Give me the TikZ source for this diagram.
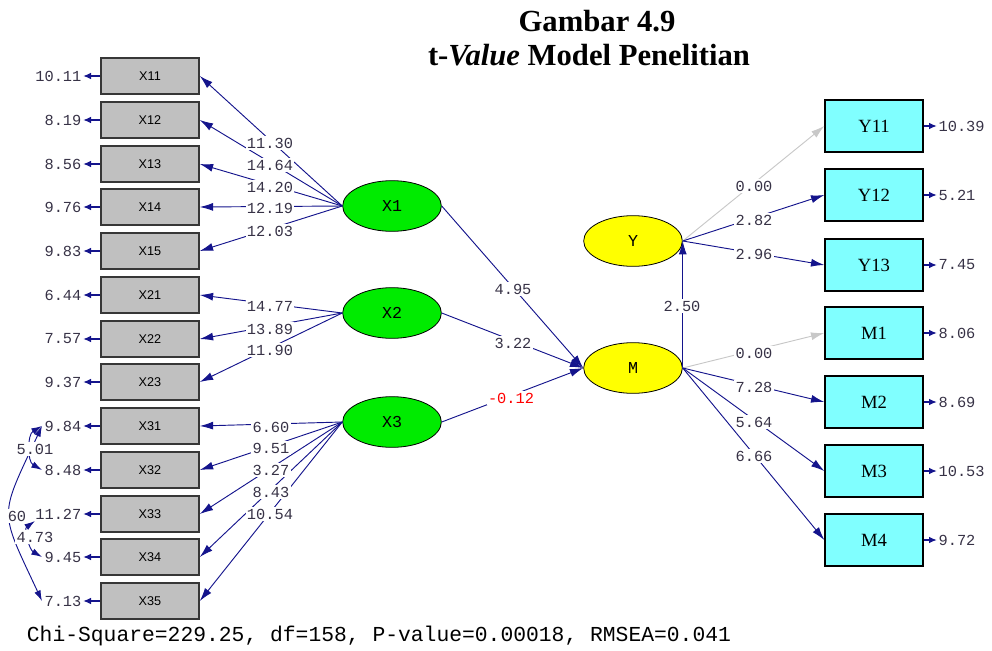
\documentclass[tikz,border=0pt]{standalone}
\usepackage{fontspec}
\setmainfont{Liberation Serif}
\newfontfamily\lmono{Liberation Mono}
\newfontfamily\lsans{Liberation Sans}
\usetikzlibrary{arrows.meta,shapes.geometric}
\definecolor{navy}{RGB}{20,20,140}
\definecolor{valtext}{RGB}{55,50,70}
\definecolor{boxgray}{RGB}{192,192,192}
\definecolor{boxline}{RGB}{55,55,55}
\definecolor{cyanbox}{RGB}{128,255,255}
\definecolor{latgreen}{RGB}{0,235,0}
\definecolor{latyellow}{RGB}{255,255,0}
\definecolor{fixgray}{RGB}{200,200,200}
\tikzset{
  obs/.style={draw=boxline, line width=1.2pt, fill=boxgray, minimum width=73.5pt, minimum height=27pt, inner sep=0pt, font=\lsans\fontsize{9.5}{11}\selectfont},
  ind/.style={draw=black, line width=1pt, fill=cyanbox, minimum width=73.5pt, minimum height=39pt, inner sep=0pt, font=\fontsize{14}{16}\selectfont},
  lat/.style={ellipse, draw=black, line width=0.6pt, minimum width=74pt, minimum height=38pt, inner sep=0pt, font=\lmono\fontsize{12.5}{14}\selectfont},
  val/.style={font=\lmono\fontsize{11.5}{12}\selectfont, text=valtext, inner sep=1pt},
  wval/.style={val, fill=white},
  pth/.style={draw=navy, line width=0.7pt, -{Latex[length=10pt,width=6pt]}},
  fixpth/.style={draw=fixgray, line width=0.7pt, -{Latex[length=10pt,width=6pt]}},
  err/.style={draw=navy, line width=1.5pt, -{Latex[length=6pt,width=5pt]}},
  cov/.style={draw=navy, line width=0.7pt, {Latex[length=8pt,width=5pt]}-{Latex[length=8pt,width=5pt]}},
}
\begin{document}
\begin{tikzpicture}[x=0.75pt,y=-0.75pt]
\useasboundingbox (0,0) rectangle (992,650);
% title
\node[anchor=base, font=\fontsize{23}{27}\selectfont\bfseries] (t1) at (597,31) {Gambar 4.9};
\node[anchor=base, font=\fontsize{23}{27}\selectfont\bfseries] (t2) at (589,65) {t-\textit{Value} Model Penelitian};
% latent variables
\node[lat, fill=latgreen] (X1) at (392,206) {X1};
\node[lat, fill=latgreen] (X2) at (392,313) {X2};
\node[lat, fill=latgreen] (X3) at (392,422) {X3};
\node[lat, fill=latyellow] (M) at (633,368) {M};
\node[lat, fill=latyellow] (Y) at (633,241) {Y};
% observed X boxes
\foreach \n/\y in {11/76, 12/120, 13/164, 14/207, 15/251, 21/295, 22/339, 23/382, 31/426, 32/470, 33/514, 34/557, 35/601}{
  \node[obs] (x\n) at (150,\y) {X\n};
}
% error covariances (drawn below the error labels)
\coordinate (c31) at (42,426);
\coordinate (c32) at (42,470);
\coordinate (c33) at (35,521);
\coordinate (c34) at (42,557);
\coordinate (c35) at (42,601);
\draw[cov] (c31) to[out=245, in=115, looseness=1.5] (c35);
\draw[cov] (c31) to[out=210, in=150] (c32);
\draw[cov] (c33) to[out=215, in=150] (c34);
\node[wval] (c60) at (17,516) {60};
% error values of the X boxes
\foreach \n/\y/\e in {11/76/10.11, 12/120/8.19, 13/164/8.56, 14/207/9.76, 15/251/9.83, 21/295/6.44, 22/339/7.57, 23/382/9.37, 31/426/9.84, 32/470/8.48, 33/514/11.27, 34/557/9.45, 35/601/7.13}{
  \node[val, anchor=east] (e\n) at (83,\y) {\e};
  \draw[err] (x\n.west) -- (e\n.east);
}
% indicator boxes on the right
\foreach \n/\t/\y/\e in {y11/Y11/126/10.39, y12/Y12/195/5.21, y13/Y13/265/7.45, m1/M1/333/8.06, m2/M2/402/8.69, m3/M3/471/10.53, m4/M4/540/9.72}{
  \node[ind] (\n) at (874,\y) {\t};
  \node[val, anchor=west] (r\n) at (937,\y) {\e};
  \draw[err] (\n.east) -- (r\n.west);
}
% loadings
\foreach \n in {11,12,13,14,15}{ \draw[pth] (X1.west) -- (x\n.east); }
\foreach \n in {21,22,23}{ \draw[pth] (X2.west) -- (x\n.east); }
\foreach \n in {31,32,33,34,35}{ \draw[pth] (X3.west) -- (x\n.east); }
% structural paths
\draw[pth] (X1.east) -- (M.west);
\draw[pth] (X2.east) -- (M.west);
\draw[pth] (X3.east) -- (M.west);
\draw[pth] (M.east) -- (Y.east);
\draw[fixpth] (Y.east) -- (y11.west);
\draw[pth] (Y.east) -- (y12.west);
\draw[pth] (Y.east) -- (y13.west);
\draw[fixpth] (M.east) -- (m1.west);
\draw[pth] (M.east) -- (m2.west);
\draw[pth] (M.east) -- (m3.west);
\draw[pth] (M.east) -- (m4.west);
% value labels
\foreach \p/\t in {{270,143}/11.30, {270,165}/14.64, {270,187}/14.20, {270,208}/12.19, {270,231}/12.03,
  {270,306}/14.77, {270,329}/13.89, {270,350}/11.90,
  {271,427}/6.60, {271,448}/9.51, {271,470}/3.27, {271,492}/8.43, {270,514}/10.54,
  {513,289}/4.95, {513,343}/3.22, {682,306}/2.50,
  {754,186}/0.00, {754,220}/2.82, {754,254}/2.96,
  {754,353}/0.00, {754,387}/7.28, {754,422}/5.64, {754,456}/6.66,
  {35,449}/5.01, {35,537}/4.73}{
  \node[wval] at (\p) {\t};
}
\node[wval, text=red] (neg) at (511,398) {-0.12};
% fit statistics
\node[anchor=base, font=\lmono\fontsize{16}{18}\selectfont, text=black, inner sep=0pt] (fit) at (379,641) {Chi-Square=229.25, df=158, P-value=0.00018, RMSEA=0.041};
\end{tikzpicture}
\end{document}
